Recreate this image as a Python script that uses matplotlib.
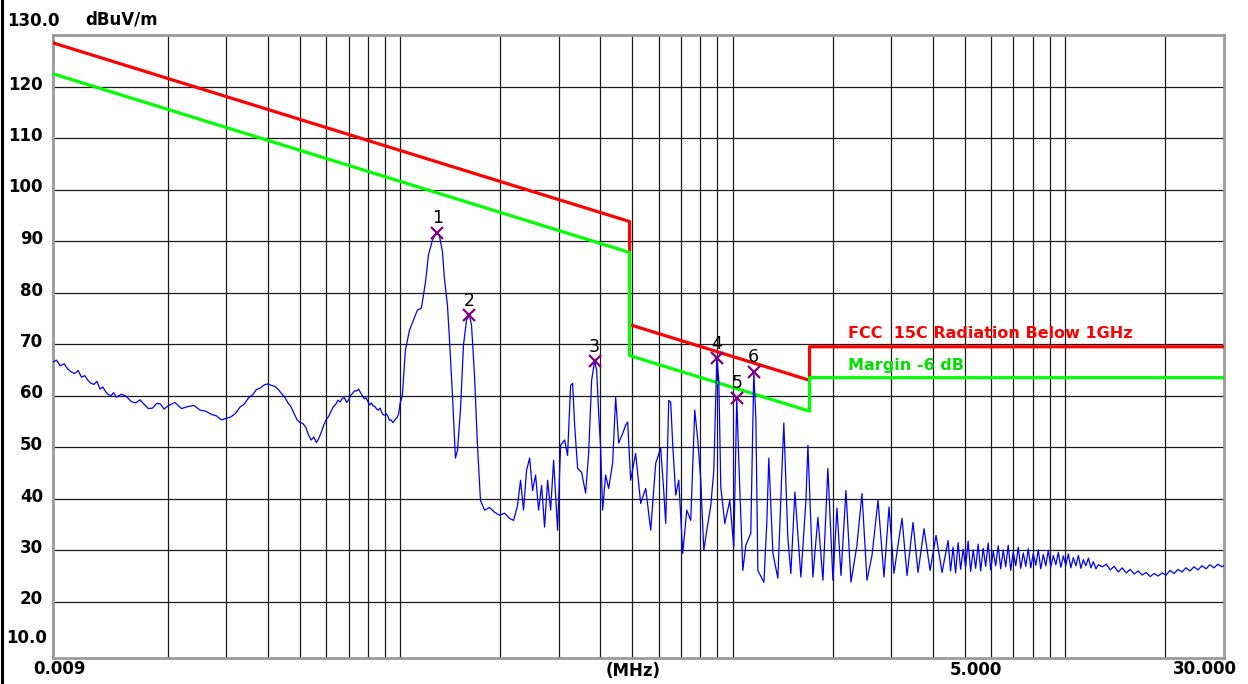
import matplotlib
matplotlib.use('Agg')
import matplotlib.pyplot as plt

# limite FCC 15C Radiation Below 1GHz (MHz, dBuV/m) e margine -6 dB
lim_f = [0.009, 0.49, 0.49, 1.705, 1.705, 30.0]
lim_db = [128.5, 93.8, 73.8, 63.0, 69.5, 69.5]
margin_db = [v - 6.0 for v in lim_db]

# traccia misurata, letta dal grafico
# banda bassa 9 kHz - 100 kHz
f_low = [0.009, 0.00925, 0.0095, 0.00975, 0.010, 0.01025, 0.0105, 0.01075, 0.011, 0.01125,
         0.0115, 0.01175, 0.012, 0.01225, 0.0125, 0.01275, 0.013, 0.01325, 0.0135, 0.01375,
         0.014, 0.0145, 0.015, 0.0155, 0.016, 0.0165, 0.017, 0.0175, 0.018, 0.0185,
         0.019, 0.0195, 0.020, 0.021, 0.022, 0.023, 0.024, 0.025, 0.026, 0.027,
         0.028, 0.029, 0.030, 0.031, 0.032, 0.033, 0.034, 0.035, 0.036, 0.037,
         0.038, 0.039, 0.040, 0.041, 0.042, 0.043, 0.044, 0.045, 0.046, 0.047,
         0.048, 0.049, 0.050, 0.051, 0.052, 0.053, 0.054, 0.055, 0.056, 0.057,
         0.058, 0.059, 0.060, 0.061, 0.062, 0.063, 0.064, 0.065, 0.066, 0.067,
         0.068, 0.069, 0.070, 0.071, 0.072, 0.073, 0.074, 0.075, 0.076, 0.077,
         0.078, 0.079, 0.080, 0.081, 0.082, 0.083, 0.084, 0.085, 0.086, 0.087,
         0.088, 0.089, 0.090, 0.091, 0.092, 0.093, 0.094, 0.095, 0.096, 0.097,
         0.098, 0.099, 0.100]
l_low = [66.5, 66.9, 65.8, 66.2, 65.2, 64.6, 64.3, 64.9, 63.6, 63.9,
         63.0, 62.4, 62.2, 62.8, 61.3, 61.7, 60.8, 60.2, 60.0, 60.6,
         59.7, 60.3, 59.9, 58.9, 58.6, 59.2, 58.3, 57.5, 57.6, 58.5,
         58.4, 57.4, 58.0, 58.7, 57.5, 57.9, 58.1, 57.2, 57.0, 56.4,
         56.1, 55.3, 55.6, 55.9, 56.6, 57.8, 58.4, 59.6, 60.2, 61.2,
         61.5, 62.1, 62.3, 62.0, 61.8, 61.2, 60.4, 59.7, 58.6, 57.8,
         56.5, 55.3, 54.8, 54.6, 53.9, 52.4, 51.4, 52.0, 50.9, 51.8,
         53.0, 54.4, 55.4, 56.0, 57.0, 57.9, 58.3, 59.1, 58.8, 59.5,
         59.6, 58.7, 59.2, 60.1, 60.5, 61.0, 60.9, 61.3, 60.6, 60.0,
         59.4, 59.6, 58.9, 58.2, 58.6, 58.0, 57.9, 57.4, 57.2, 57.6,
         56.8, 56.3, 56.2, 56.5, 55.9, 55.2, 55.3, 54.8, 55.1, 55.5,
         55.8, 56.5, 58.5]

# picchi 1 e 2 e zona fino a 490 kHz
f_pk = [0.1016, 0.1037, 0.1067, 0.1097, 0.1127, 0.1159, 0.1192, 0.1217, 0.1251, 0.1277,
        0.1295, 0.1313, 0.1341, 0.1359, 0.1388, 0.1408, 0.1437, 0.1467, 0.1488, 0.1519,
        0.1551, 0.1584, 0.1617, 0.1640, 0.1674, 0.1709, 0.1745, 0.1794, 0.1858, 0.1923,
        0.1991, 0.2062, 0.2134, 0.2194, 0.2256, 0.2303, 0.2351, 0.2401, 0.2453, 0.2503,
        0.2556, 0.2610, 0.2665, 0.2720, 0.2779, 0.2837, 0.2896, 0.2977, 0.3040, 0.3126,
        0.3190, 0.3258, 0.3304, 0.3350, 0.3420, 0.3516, 0.3615, 0.3691, 0.3769, 0.3847,
        0.3901, 0.3956, 0.4011, 0.4067, 0.4152, 0.4240, 0.4359, 0.4451, 0.4546, 0.4674,
        0.4771, 0.4838, 0.4939]
l_pk = [60.1, 68.8, 72.7, 74.7, 76.6, 77.0, 82.0, 87.3, 90.2, 91.3,
        91.6, 91.0, 87.9, 82.8, 77.6, 70.8, 60.1, 47.9, 49.4, 57.2,
        69.8, 74.7, 75.6, 73.7, 64.0, 50.4, 39.7, 37.8, 38.3, 37.4,
        36.8, 37.2, 36.2, 35.8, 38.7, 43.6, 37.8, 45.5, 47.9, 41.6,
        44.6, 37.8, 42.6, 34.5, 43.6, 37.8, 47.5, 33.9, 50.4, 51.4,
        48.4, 62.0, 62.4, 54.3, 45.9, 45.1, 41.1, 48.8, 63.0, 66.7,
        65.0, 56.6, 50.0, 37.8, 44.6, 42.0, 46.9, 59.7, 50.8, 52.7,
        54.3, 54.9, 43.6]

# banda media 0.5 - 1.2 MHz (picchi 4, 5, 6)
f_mid = [0.5113, 0.5293, 0.5481, 0.5675, 0.5875, 0.6081, 0.6209, 0.6296, 0.6429, 0.6519,
         0.6610, 0.6749, 0.6891, 0.7084, 0.7283, 0.7488, 0.7698, 0.7862, 0.8027, 0.8197,
         0.8369, 0.8604, 0.8785, 0.8970, 0.9095, 0.9222, 0.9481, 0.9815, 1.009, 1.030,
         1.045, 1.074, 1.097, 1.135, 1.159, 1.176, 1.192]
l_mid = [48.8, 39.1, 42.0, 33.9, 46.9, 49.8, 41.6, 35.2, 59.1, 58.7,
         50.4, 40.7, 43.6, 29.4, 37.8, 35.8, 57.2, 51.4, 43.6, 30.0,
         33.9, 38.7, 45.5, 67.3, 63.0, 42.2, 35.2, 39.7, 30.6, 59.6,
         46.9, 26.1, 31.0, 33.3, 64.6, 55.2, 26.1]

# banda alta 1.2 - 4.4 MHz (armoniche piu' alte)
f_high = [1.243, 1.269, 1.286, 1.323, 1.369, 1.408, 1.427, 1.467, 1.498, 1.541,
          1.606, 1.663, 1.686, 1.745, 1.807, 1.871, 1.936, 2.005, 2.062, 2.120,
          2.194, 2.272, 2.368, 2.452, 2.538, 2.628, 2.740, 2.856, 2.957, 3.060,
          3.147, 3.236, 3.350, 3.492, 3.615, 3.769, 3.930, 4.096, 4.270]
l_high = [23.8, 35.8, 47.9, 29.4, 24.6, 45.5, 54.7, 32.5, 25.5, 41.3,
          24.8, 39.7, 50.4, 24.8, 36.4, 24.2, 45.9, 24.2, 38.2, 25.1,
          41.6, 23.8, 31.0, 41.0, 24.2, 29.0, 39.7, 24.8, 38.4, 25.5,
          31.0, 36.2, 25.1, 35.4, 25.7, 34.2, 26.1, 32.9, 25.7]

# pettine fitto 4.4 - 12.6 MHz
f_comb = [4.452, 4.530, 4.609, 4.690, 4.772, 4.856, 4.941, 5.027, 5.115, 5.205,
          5.296, 5.389, 5.483, 5.579, 5.677, 5.776, 5.877, 5.980, 6.085, 6.191,
          6.300, 6.410, 6.522, 6.636, 6.752, 6.871, 6.991, 7.113, 7.238, 7.365,
          7.494, 7.625, 7.758, 7.894, 8.032, 8.173, 8.316, 8.461, 8.609, 8.760,
          8.913, 9.069, 9.228, 9.390, 9.554, 9.721, 9.891, 10.06, 10.24, 10.42,
          10.60, 10.79, 10.98, 11.17, 11.36, 11.56, 11.77, 11.97, 12.18, 12.40,
          12.61]
l_comb = [31.9, 26.0, 30.6, 25.6, 31.5, 26.3, 30.2, 26.8, 31.8, 25.9,
          30.1, 26.5, 31.2, 26.0, 30.4, 26.9, 31.4, 26.2, 29.8, 27.0,
          30.9, 26.4, 30.0, 26.8, 31.0, 26.1, 29.7, 27.0, 30.6, 26.5,
          29.5, 26.9, 30.3, 26.6, 29.4, 27.1, 30.1, 26.4, 29.2, 27.0,
          30.0, 26.8, 29.0, 27.2, 29.6, 26.7, 28.9, 27.1, 29.3, 26.6,
          28.6, 27.0, 29.0, 26.5, 28.2, 27.0, 28.5, 26.6, 27.8, 26.4,
          27.2]

# coda di rumore 12.9 - 30 MHz
f_tail = [12.95, 13.32, 13.69, 14.07, 14.47, 14.87, 15.29, 15.72, 16.16, 16.61,
          17.08, 17.56, 18.05, 18.55, 19.07, 19.61, 20.16, 20.72, 21.30, 21.90,
          22.51, 23.14, 23.79, 24.46, 25.14, 25.85, 26.57, 27.31, 28.08, 28.86,
          29.67, 30.0]
l_tail = [26.8, 27.3, 26.2, 26.9, 25.8, 26.6, 25.6, 26.3, 25.4, 26.0,
          25.2, 25.7, 24.9, 25.5, 25.0, 25.6, 25.2, 26.1, 25.5, 26.3,
          25.8, 26.6, 26.0, 26.8, 26.2, 27.0, 26.4, 27.2, 26.6, 27.3,
          26.8, 27.0]

# marker dei picchi
mk_f = [0.1295, 0.1617, 0.3847, 0.8970, 1.030, 1.159]
mk_db = [91.6, 75.6, 66.7, 67.3, 59.6, 64.6]
mk_lab = ['1', '2', '3', '4', '5', '6']

# griglia
grid_f = [0.02, 0.03, 0.04, 0.05, 0.06, 0.07, 0.08, 0.09, 0.1,
          0.2, 0.3, 0.4, 0.5, 0.6, 0.7, 0.8, 0.9, 1.0,
          2, 3, 4, 5, 6, 7, 8, 9, 10, 20]
grid_db = [20, 30, 40, 50, 60, 70, 80, 90, 100, 110, 120]

freq = f_low + f_pk + f_mid + f_high + f_comb + f_tail
level = l_low + l_pk + l_mid + l_high + l_comb + l_tail

W, H = 1248, 684
fig = plt.figure(figsize=(W / 100, H / 100), dpi=100)
fig.patch.set_facecolor('white')
ax = fig.add_axes([52.5 / W, (H - 658) / H, 1171 / W, 623 / H])
ax.set_xscale('log')
ax.set_xlim(0.009, 30)
ax.set_ylim(9.1, 130)
ax.minorticks_off()
ax.tick_params(which='both', length=0, labelbottom=False, labelleft=False)
for s in ax.spines.values():
    s.set_color('#9a9a9a')
    s.set_linewidth(2.0)

for g in grid_f:
    ax.axvline(g, color='#1a1a1a', lw=0.9, zorder=1)
for g in grid_db:
    ax.axhline(g, color='#1a1a1a', lw=0.9, zorder=1)

ax.plot(lim_f, lim_db, color='#ff0000', lw=2.3, zorder=3)
ax.plot(lim_f, margin_db, color='#00ff00', lw=2.3, zorder=3)
ax.plot(freq, level, color='#0000ff', lw=0.9, zorder=4)

ax.plot(mk_f, mk_db, 'x', color='#800080', ms=9, mew=1.6, zorder=5)
for f, d, t in zip(mk_f, mk_db, mk_lab):
    ax.annotate(t, (f, d), xytext=(0, 10.5), textcoords='offset points',
                ha='center', va='center', fontsize=12.5, color='black', zorder=6)

ax.text(2.225, 72.1, 'FCC  15C Radiation Below 1GHz', color='#ff0000',
        fontsize=11.5, fontweight='bold', va='center', ha='left', zorder=6)
ax.text(2.225, 65.9, 'Margin -6 dB', color='#00e000',
        fontsize=11.5, fontweight='bold', va='center', ha='left', zorder=6)

# etichette assi in pixel
def ftxt(px, py, s, ha='left'):
    fig.text(px / W, 1 - py / H, s, ha=ha, va='center', fontsize=12,
             fontweight='bold', color='black')

ftxt(7, 21, '130.0')
ftxt(85, 19, 'dBuV/m')
for v in [120, 110, 100, 90, 80, 70, 60, 50, 40, 30, 20]:
    py = 35 + (130 - v) * 5.15 - 2
    ftxt(43, py, str(v), ha='right')
ftxt(47, 638, '10.0', ha='right')
ftxt(59, 669, '0.009', ha='center')
ftxt(633, 671, '(MHz)', ha='center')
ftxt(950, 670, '5.000')
ftxt(1237, 669, '30.000', ha='right')

# bordo sinistro della finestra
fig.add_artist(plt.Line2D([1.5 / W, 1.5 / W], [0, 1], color='black', lw=2.2,
                          transform=fig.transFigure))

fig.savefig('out.png', dpi=100)
